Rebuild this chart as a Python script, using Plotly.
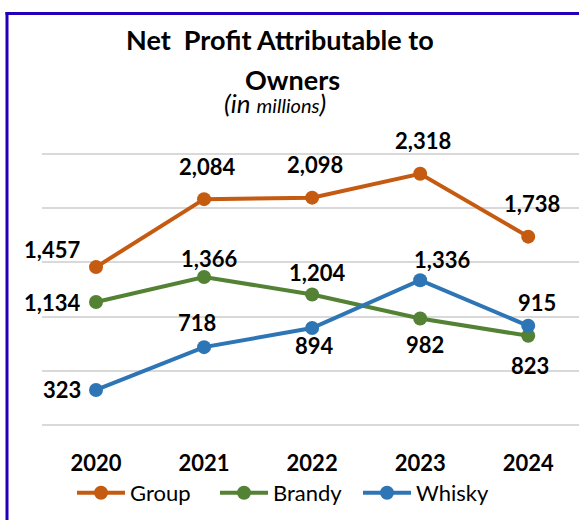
import plotly.graph_objects as go

years = ["2020", "2021", "2022", "2023", "2024"]
group = [1457, 2084, 2098, 2318, 1738]
brandy = [1134, 1366, 1204, 982, 823]
whisky = [323, 718, 894, 1336, 915]

# label offsets (px) for each point: (xshift, yshift)
group_off = [(-44, 18), (3, 33), (3, 33), (3, 33), (4, 33)]
brandy_off = [(-44, 0), (5, 18), (5, 22), (5, -26), (2, -30)]
whisky_off = [(-34, 0), (-7, 25), (2, -17), (22, 21), (9, 23)]

W, H = 579, 520
L, R, T, B = 42, 0, 153, 94
pw, ph = W - L - R, H - T - B

def px(x):
    return (x - L) / pw

def py(y):
    return (H - B - y) / ph

fig = go.Figure()
series = [("Group", group, "#C55A11", group_off),
          ("Brandy", brandy, "#548235", brandy_off),
          ("Whisky", whisky, "#2E75B6", whisky_off)]

for name, vals, color, offs in series:
    fig.add_trace(go.Scatter(
        x=years, y=vals, name=name, mode="lines+markers",
        line=dict(color=color, width=4),
        marker=dict(color=color, size=14),
        hoverinfo="skip"
    ))
    for i, (v, (dx, dy)) in enumerate(zip(vals, offs)):
        fig.add_annotation(x=i, y=v, text=f"<b>{v:,}</b>", showarrow=False,
                           xshift=dx, yshift=dy, xanchor="center", yanchor="middle",
                           font=dict(family="Lato", size=22, color="black"))

# title lines
fig.add_annotation(xref="paper", yref="paper", x=px(280), y=py(40),
                   text="<b>Net  Profit Attributable to</b>", showarrow=False,
                   xanchor="center", yanchor="middle",
                   font=dict(family="Lato", size=27, color="black"))
fig.add_annotation(xref="paper", yref="paper", x=px(292), y=py(79),
                   text="<b>Owners</b>", showarrow=False,
                   xanchor="center", yanchor="middle",
                   font=dict(family="Lato", size=27, color="black"))
fig.add_annotation(xref="paper", yref="paper", x=px(275), y=py(103),
                   text="<i>(in <span style='font-size:20px'>millions</span>)</i>",
                   showarrow=False, xanchor="center", yanchor="middle",
                   font=dict(family="Lato", size=26, color="black"))

# blue frame (left + top edges)
frame = "#2200BB"
fig.add_shape(type="line", xref="paper", yref="paper",
              x0=px(7), x1=px(7), y0=py(12), y1=py(H), line=dict(color=frame, width=3))
fig.add_shape(type="line", xref="paper", yref="paper",
              x0=px(5.5), x1=px(W + 2), y0=py(13.5), y1=py(13.5), line=dict(color=frame, width=3))

fig.update_xaxes(type="category", range=[-0.5, 4.47], showgrid=False, showline=False,
                 zeroline=False, tickfont=dict(family="Lato", size=22, color="black"),
                 ticklabelstandoff=22, tickprefix="<b>", ticksuffix="</b>")
fig.update_yaxes(range=[-10, 2510], tickvals=[0, 500, 1000, 1500, 2000, 2500],
                 showgrid=True, gridcolor="#D9D9D9", gridwidth=1.5,
                 showticklabels=False, zeroline=False, showline=False)

fig.update_layout(
    width=W, height=H,
    margin=dict(l=L, r=R, t=T, b=B, autoexpand=False),
    paper_bgcolor="white", plot_bgcolor="white",
    showlegend=True,
    legend=dict(orientation="h", x=px(72), y=py(493), xanchor="left", yanchor="middle",
                font=dict(family="Lato", size=22, color="black"),
                entrywidth=80, itemwidth=48, bgcolor="rgba(0,0,0,0)"),
)

fig.write_html("out.html", config={"displayModeBar": False},
               post_script="document.body.style.margin='0';")
